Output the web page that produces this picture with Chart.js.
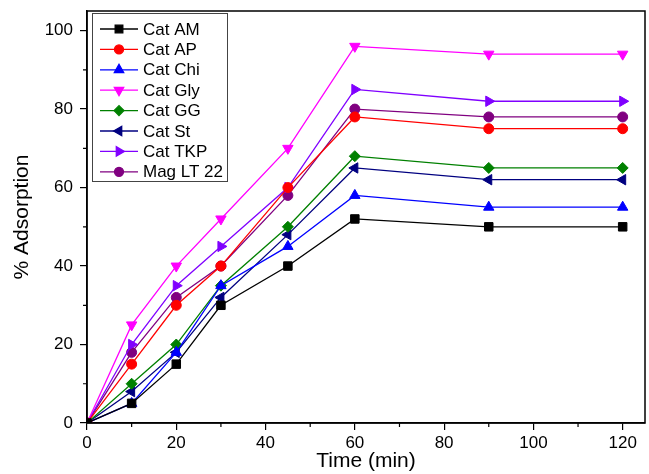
<!DOCTYPE html>
<html>
<head>
<meta charset="utf-8">
<script src="https://cdn.jsdelivr.net/npm/chart.js@4.4.0/dist/chart.umd.min.js"></script>
<style>
  html, body { margin: 0; padding: 0; background: #fff; }
  #wrap { width: 649px; height: 474px; }
</style>
</head>
<body>
<div id="wrap"><canvas id="chart" width="649" height="474"></canvas></div>
<script>
// Data
var times = [0, 10, 20, 30, 45, 60, 90, 120];

var catAM  = [0, 5, 15, 30, 40, 52, 50, 50];
var catAP  = [0, 15, 30, 40, 60, 78, 75, 75];
var catChi = [0, 5, 18, 35, 45, 58, 55, 55];
var catGly = [0, 25, 40, 52, 70, 96, 94, 94];
var catGG  = [0, 10, 20, 35, 50, 68, 65, 65];
var catSt  = [0, 8, 18, 32, 48, 65, 62, 62];
var catTKP = [0, 20, 35, 45, 60, 85, 82, 82];
var magLT  = [0, 18, 32, 40, 58, 80, 78, 78];

var xTicks = [0, 20, 40, 60, 80, 100, 120];
var yTicks = [0, 20, 40, 60, 80, 100];

var names = ["Cat AM", "Cat AP", "Cat Chi", "Cat Gly", "Cat GG", "Cat St", "Cat TKP", "Mag LT 22"];
var values = [catAM, catAP, catChi, catGly, catGG, catSt, catTKP, magLT];
var colors = ["#000000", "#ff0000", "#0000ff", "#ff00ff", "#008000", "#000080", "#8000ff", "#800080"];
var shapes = ["rect", "circle", "triangle", "triangle", "rectRot", "triangle", "triangle", "circle"];
var turns  = [0, 0, 0, 180, 0, -90, 90, 0];
var sizes  = [6, 5, 6, 6, 5.5, 6, 6, 5];

var FONT = "'Liberation Sans', Arial, sans-serif";

// build datasets
var datasets = [];
for (var i = 0; i < names.length; i++) {
  datasets.push({
    label: names[i],
    data: times.map(function (t, j) { return { x: t, y: values[i][j] }; }),
    borderColor: colors[i],
    backgroundColor: colors[i],
    borderWidth: 1.3,
    pointStyle: shapes[i],
    rotation: turns[i],
    pointRadius: sizes[i],
    pointBorderWidth: 1,
    tension: 0
  });
}

// frame, minor ticks and legend box
var framePlugin = {
  id: 'frame',
  afterDraw: function (chart) {
    var ctx = chart.ctx;
    var a = chart.chartArea;
    var xs = chart.scales.x, ys = chart.scales.y;
    ctx.save();
    ctx.strokeStyle = '#000';
    ctx.lineWidth = 1.5;
    ctx.strokeRect(a.left, a.top, a.right - a.left, a.bottom - a.top);

    // minor ticks
    ctx.lineWidth = 1.2;
    ctx.beginPath();
    for (var v = 10; v <= 120; v += 20) {
      var px = xs.getPixelForValue(v);
      ctx.moveTo(px, a.bottom);
      ctx.lineTo(px, a.bottom + 4);
    }
    for (var w = 10; w <= 100; w += 20) {
      var py = ys.getPixelForValue(w);
      ctx.moveTo(a.left, py);
      ctx.lineTo(a.left - 4, py);
    }
    ctx.stroke();

    // legend
    var lx = a.left + 5, ly = a.top + 2;
    var rowH = 20.4;
    ctx.fillStyle = '#fff';
    ctx.fillRect(lx, ly, 135, 168);
    ctx.strokeStyle = '#444';
    ctx.lineWidth = 1;
    ctx.strokeRect(lx + 0.5, ly + 0.5, 135, 168);
    ctx.font = "17px " + FONT;
    ctx.textBaseline = 'middle';
    for (var k = 0; k < names.length; k++) {
      var cy = ly + 16 + k * rowH;
      ctx.strokeStyle = colors[k];
      ctx.lineWidth = 1.3;
      ctx.beginPath();
      ctx.moveTo(lx + 8, cy);
      ctx.lineTo(lx + 46, cy);
      ctx.stroke();
      ctx.fillStyle = colors[k];
      Chart.helpers.drawPoint(ctx, {
        pointStyle: shapes[k], rotation: turns[k], radius: sizes[k] * 0.9, borderWidth: 1
      }, lx + 27, cy);
      ctx.fillStyle = '#000';
      ctx.fillText(names[k], lx + 51, cy + 1);
    }
    ctx.restore();
  }
};

var ctx = document.getElementById("chart").getContext('2d');
var chart = new Chart(ctx, {
  type: 'line',
  data: { datasets: datasets },
  options: {
    responsive: false,
    animation: false,
    layout: { autoPadding: false, padding: { left: 0, top: 11, right: 4, bottom: 0 } },
    plugins: {
      legend: { display: false },
      tooltip: { enabled: false }
    },
    scales: {
      x: {
        type: 'linear',
        min: 0,
        max: 125,
        afterBuildTicks: function (s) { s.ticks = xTicks.map(function (v) { return { value: v }; }); },
        afterFit: function (s) { s.height = 51; s.paddingLeft = 0; s.paddingRight = 0; },
        ticks: {
          color: '#000',
          font: { size: 17, family: FONT },
          padding: 3,
          maxRotation: 0,
          autoSkip: false
        },
        grid: { drawOnChartArea: false, tickLength: 7, color: '#000', lineWidth: 1.2 },
        border: { color: '#000', width: 1.5 },
        title: {
          display: true, text: 'Time (min)', color: '#000',
          font: { size: 21, family: FONT }, padding: { top: 2, bottom: 0 }
        }
      },
      y: {
        min: 0,
        max: 105,
        afterBuildTicks: function (s) { s.ticks = yTicks.map(function (v) { return { value: v }; }); },
        afterFit: function (s) { s.width = 87; s.paddingTop = 0; s.paddingBottom = 0; },
        ticks: {
          color: '#000',
          font: { size: 17, family: FONT },
          padding: 7,
          autoSkip: false
        },
        grid: { drawOnChartArea: false, tickLength: 7, color: '#000', lineWidth: 1.2 },
        border: { color: '#000', width: 1.5 },
        title: {
          display: true, text: '% Adsorption', color: '#000',
          font: { size: 21, family: FONT }, padding: { top: 10, bottom: 0 }
        }
      }
    }
  },
  plugins: [framePlugin]
});
</script>
</body>
</html>
